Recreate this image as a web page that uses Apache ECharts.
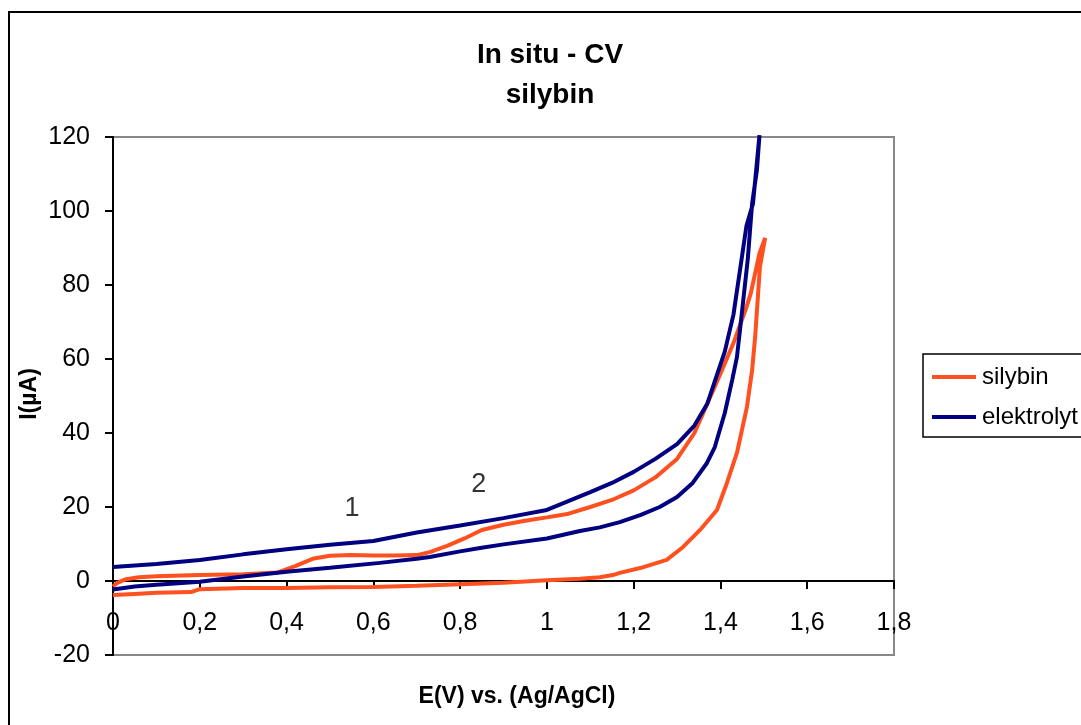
<!DOCTYPE html>
<html>
<head>
<meta charset="utf-8">
<script src="https://cdn.jsdelivr.net/npm/echarts@6/dist/echarts.min.js"></script>
<style>
  html, body { margin: 0; padding: 0; background: #fff; }
  #chart { width: 1081px; height: 725px; }
</style>
</head>
<body>
<div id="chart"></div>
<script>
// Cyclic voltammograms: potential E (V vs. Ag/AgCl) and current I (µA).
// Each loop is stored as the anodic (forward) branch followed by the return branch.

// silybin: forward scan
const silybinFwdE = [0, 0.01, 0.03, 0.06, 0.1, 0.2, 0.3, 0.38, 0.42, 0.46, 0.5, 0.55, 0.6, 0.65, 0.7, 0.73, 0.77, 0.81, 0.85, 0.9, 0.95, 1.0, 1.05, 1.1, 1.15, 1.2, 1.25, 1.3, 1.34, 1.37, 1.4, 1.43, 1.46, 1.47, 1.49, 1.503];
const silybinFwdI = [-1.5, -0.5, 0.5, 1.0, 1.3, 1.6, 1.8, 2.3, 4.0, 6.0, 6.8, 7.0, 6.9, 6.9, 7.0, 7.8, 9.5, 11.5, 13.8, 15.2, 16.3, 17.2, 18.2, 20.0, 21.9, 24.5, 28.0, 33.0, 40.0, 48.0, 56.0, 64.3, 74.0, 77.8, 88.6, 92.7];
// silybin: return scan
const silybinRevE = [1.491, 1.48, 1.473, 1.461, 1.438, 1.415, 1.392, 1.353, 1.314, 1.276, 1.215, 1.168, 1.152, 1.122, 1.076, 1.0, 0.9, 0.8, 0.7, 0.6, 0.5, 0.4, 0.3, 0.2, 0.18, 0.1, 0.05, 0];
const silybinRevI = [84.9, 66.0, 57.0, 47.0, 34.6, 26.5, 19.2, 13.8, 9.2, 5.7, 3.5, 2.2, 1.6, 1.0, 0.6, 0.2, -0.5, -0.9, -1.3, -1.6, -1.7, -1.9, -1.9, -2.2, -3.0, -3.2, -3.5, -3.8];

// elektrolyt: forward scan
const elektroFwdE = [0, 0.05, 0.1, 0.2, 0.3, 0.4, 0.5, 0.6, 0.7, 0.8, 0.9, 1.0, 1.1, 1.15, 1.2, 1.25, 1.3, 1.34, 1.37, 1.39, 1.41, 1.42, 1.43, 1.445, 1.46, 1.475, 1.49];
const elektroFwdI = [3.8, 4.2, 4.6, 5.7, 7.2, 8.6, 9.8, 10.8, 13.1, 15.0, 17.0, 19.2, 24.0, 26.5, 29.5, 33.0, 37.0, 42.0, 48.0, 55.0, 62.0, 67.0, 72.0, 84.0, 96.0, 102.0, 120.5];
// elektrolyt: return scan
const elektroRevE = [1.484, 1.473, 1.463, 1.445, 1.438, 1.427, 1.41, 1.387, 1.369, 1.336, 1.3, 1.26, 1.215, 1.168, 1.122, 1.076, 1.0, 0.9, 0.846, 0.8, 0.73, 0.7, 0.615, 0.5, 0.4, 0.3, 0.2, 0.1, 0.05, 0];
const elektroRevI = [111.0, 102.0, 87.0, 67.8, 60.5, 54.3, 45.4, 36.2, 31.9, 26.5, 22.7, 20.0, 17.8, 15.9, 14.5, 13.5, 11.5, 9.9, 8.9, 8.0, 6.5, 6.0, 4.9, 3.6, 2.5, 1.2, -0.2, -1.0, -1.5, -2.3];

// Peak annotations
const peakNames = ['1', '2'];
const peakE = [0.551, 0.843];
const peakI = [19.5, 26.2];

// Axis tick settings
const xMin = 0, xMax = 1.8, xStep = 0.2;
const yMin = -20, yMax = 120, yStep = 20;

const seriesNames = ['silybin', 'elektrolyt'];
const seriesColors = ['#FF5020', '#000080'];

function pairs(es, is) {
  return es.map((e, k) => [e, is[k]]);
}
const silybinData = pairs(silybinFwdE, silybinFwdI).concat(pairs(silybinRevE, silybinRevI));
const elektroData = pairs(elektroFwdE, elektroFwdI).concat(pairs(elektroRevE, elektroRevI));
const peakData = peakNames.map((n, k) => ({ name: n, value: [peakE[k], peakI[k]] }));

const FONT = '"Liberation Sans", Arial, Helvetica, sans-serif';

const GRID_TOP = 137, GRID_BOTTOM = 70, CHART_H = 725;
// pixel distance from the grid's bottom edge up to the I = 0 line
const plotH = CHART_H - GRID_TOP - GRID_BOTTOM;
const zeroLift = plotH * (0 - yMin) / (yMax - yMin);

const chart = echarts.init(document.getElementById('chart'), null, { renderer: 'canvas' });

chart.setOption({
  animation: false,
  backgroundColor: '#ffffff',
  textStyle: { fontFamily: FONT },
  grid: {
    left: 113, right: 187, top: GRID_TOP, bottom: GRID_BOTTOM,
    show: true, borderColor: '#888888', borderWidth: 2, backgroundColor: 'transparent'
  },
  legend: {
    data: seriesNames,
    orient: 'vertical',
    left: 923, top: 354,
    padding: [11, 40, 8, 9],
    itemGap: 16,
    itemWidth: 44, itemHeight: 4,
    icon: 'rect',
    borderColor: '#000', borderWidth: 1.5,
    textStyle: { fontFamily: FONT, fontSize: 24, color: '#000', lineHeight: 22, padding: [0, 0, 0, 1] }
  },
  xAxis: {
    type: 'value',
    min: xMin, max: xMax, interval: xStep,
    // the potential axis sits on the I = 0 line
    offset: -zeroLift,
    axisLine: { onZero: false, lineStyle: { color: '#000', width: 2 } },
    axisTick: { show: true, length: 8, lineStyle: { color: '#000', width: 2 } },
    splitLine: { show: false },
    axisLabel: {
      margin: 30, fontSize: 25, color: '#000', fontFamily: FONT,
      formatter: v => String(Math.round(v * 10) / 10).replace('.', ',')
    }
  },
  yAxis: {
    type: 'value',
    min: yMin, max: yMax, interval: yStep,
    axisLine: { show: true, onZero: false, lineStyle: { color: '#000', width: 2 } },
    axisTick: { show: true, length: 8, lineStyle: { color: '#000', width: 2 } },
    splitLine: { show: false },
    axisLabel: { margin: 23, fontSize: 25, color: '#000', fontFamily: FONT }
  },
  graphic: [
    // outer chart frame
    { type: 'rect', shape: { x: 9, y: 12, width: 1200, height: 1000 },
      style: { fill: 'none', stroke: '#000', lineWidth: 2 }, silent: true },
    { type: 'text', x: 550, y: 55,
      style: { text: 'In situ - CV', font: 'bold 28px ' + FONT, fill: '#000', align: 'center', verticalAlign: 'middle' } },
    { type: 'text', x: 550, y: 95,
      style: { text: 'silybin', font: 'bold 28px ' + FONT, fill: '#000', align: 'center', verticalAlign: 'middle' } },
    { type: 'text', x: 517, y: 697,
      style: { text: 'E(V) vs. (Ag/AgCl)', font: 'bold 23px ' + FONT, fill: '#000', align: 'center', verticalAlign: 'middle' } },
    { type: 'text', x: 30, y: 394, rotation: Math.PI / 2,
      style: { text: 'I(µA)', font: 'bold 23px ' + FONT, fill: '#000', align: 'center', verticalAlign: 'middle' } }
  ],
  series: [
    {
      name: seriesNames[0], type: 'line', data: silybinData,
      showSymbol: false, symbol: 'none', smooth: false,
      lineStyle: { color: seriesColors[0], width: 4 },
      itemStyle: { color: seriesColors[0] }
    },
    {
      name: seriesNames[1], type: 'line', data: elektroData,
      showSymbol: false, symbol: 'none', smooth: false,
      lineStyle: { color: seriesColors[1], width: 4 },
      itemStyle: { color: seriesColors[1] }
    },
    {
      name: 'peaks', type: 'scatter', data: peakData,
      symbolSize: 0, silent: true,
      label: { show: true, position: 'inside', formatter: p => p.name, fontSize: 27, color: '#000', fontFamily: FONT }
    }
  ]
});
</script>
</body>
</html>
